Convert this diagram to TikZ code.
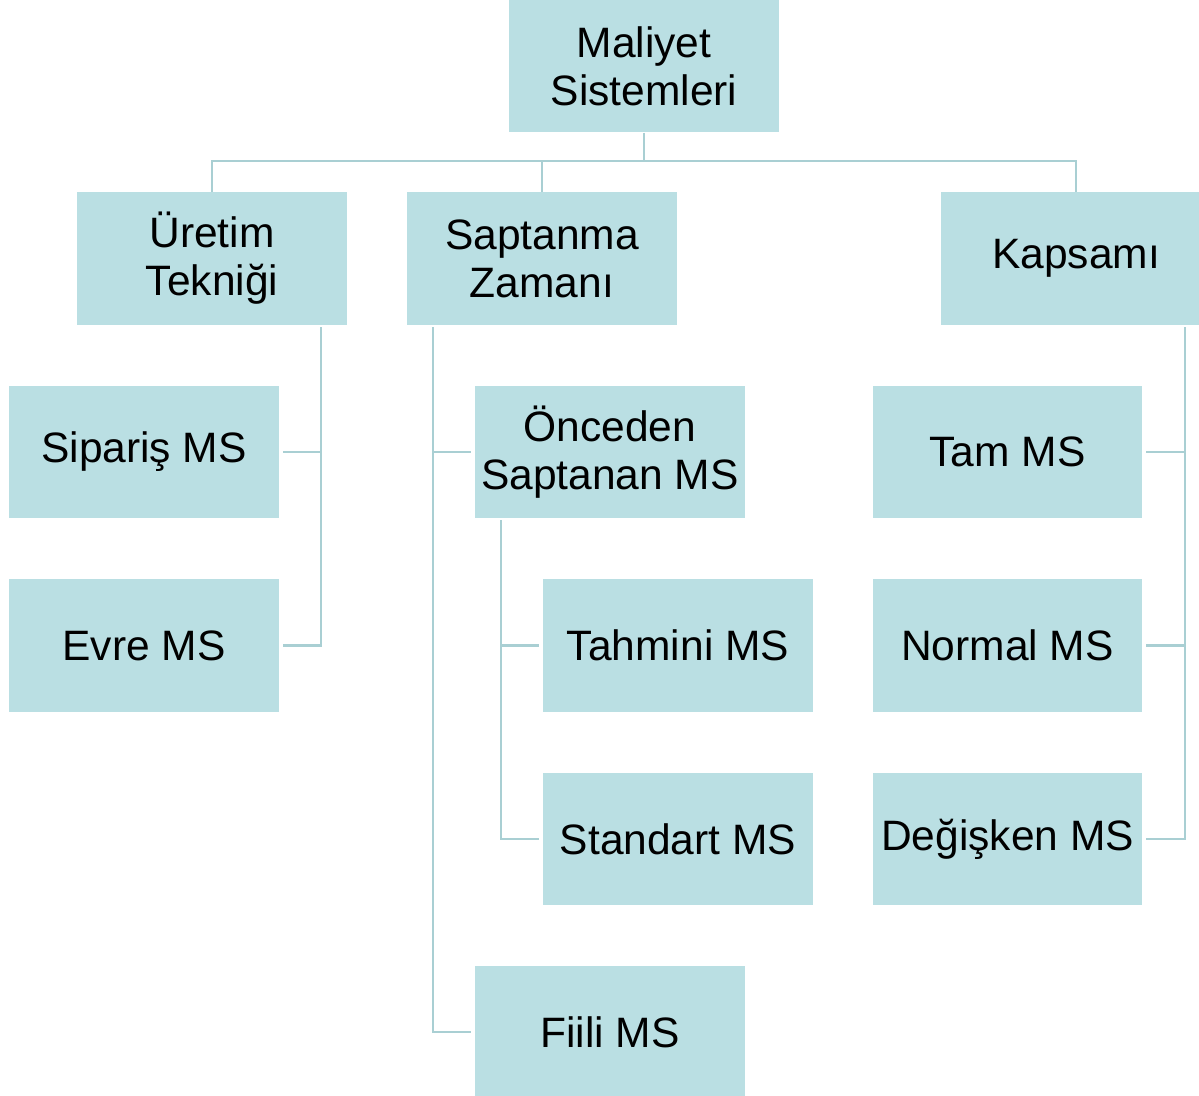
\documentclass[tikz,border=0pt]{standalone}
\usepackage{fontspec}
\setmainfont{Liberation Sans}
\definecolor{boxfill}{HTML}{BADFE3}
\definecolor{linecolor}{HTML}{A9CFD3}
\newcommand{\boxfont}{\fontsize{24.2pt}{27.3pt}\selectfont}
\begin{document}
\begin{tikzpicture}
[x=0.02cm,y=-0.02cm,
  boxdecorate/.style={shape=rectangle,fill=boxfill,inner sep=0pt,%
    minimum width=5.4cm,minimum height=2.65cm,align=center,font=\boxfont},
  linedecorate/.style={-,draw=linecolor,line width=1.4pt,shorten >=0.07cm}]
\useasboundingbox (0,0) rectangle (1199,1095);
%% nodes or vertices
\foreach \nodename/\x/\y/\label in {root/644/66/{Maliyet\\Sistemleri},
    uretim/212/258.5/{Üretim\\Tekniği}, saptanma/542/258.5/{Saptanma\\Zamanı},
    kapsam/1076/258.5/{Kapsamı},
    siparis/144/452/{Sipariş MS}, evre/144/645.5/{Evre MS},
    onceden/610/452/{Önceden\\Saptanan MS}, tahmini/678/645.5/{Tahmini MS},
    standart/678/839/{Standart MS}, fiili/610/1032/{Fiili MS},
    tam/1007.5/452/{Tam MS}, normal/1007.5/645.5/{Normal MS},
    degisken/1007.5/839/{Değişken MS}} {
  \node (\nodename) at (\x,\y) [boxdecorate] {\label};
}
%% bends of the connectors
\coordinate (hub) at (644,161);
\coordinate (ubar) at (321,327);
\coordinate (sbar) at (433,327);
\coordinate (obar) at (501,520);
\coordinate (kbar) at (1185,327);
%% edges or lines
\draw[linedecorate,shorten >=0pt] (root) -- (hub);
\foreach \startnode/\endnode in {hub/uretim, hub/saptanma, hub/kapsam} {
  \draw[linedecorate,shorten >=0pt] (\startnode) -| (\endnode);
}
\foreach \startnode/\endnode in {ubar/siparis, ubar/evre, sbar/onceden,
    sbar/fiili, obar/tahmini, obar/standart, kbar/tam, kbar/normal,
    kbar/degisken} {
  \draw[linedecorate] (\startnode) |- (\endnode);
}
\end{tikzpicture}
\end{document}
